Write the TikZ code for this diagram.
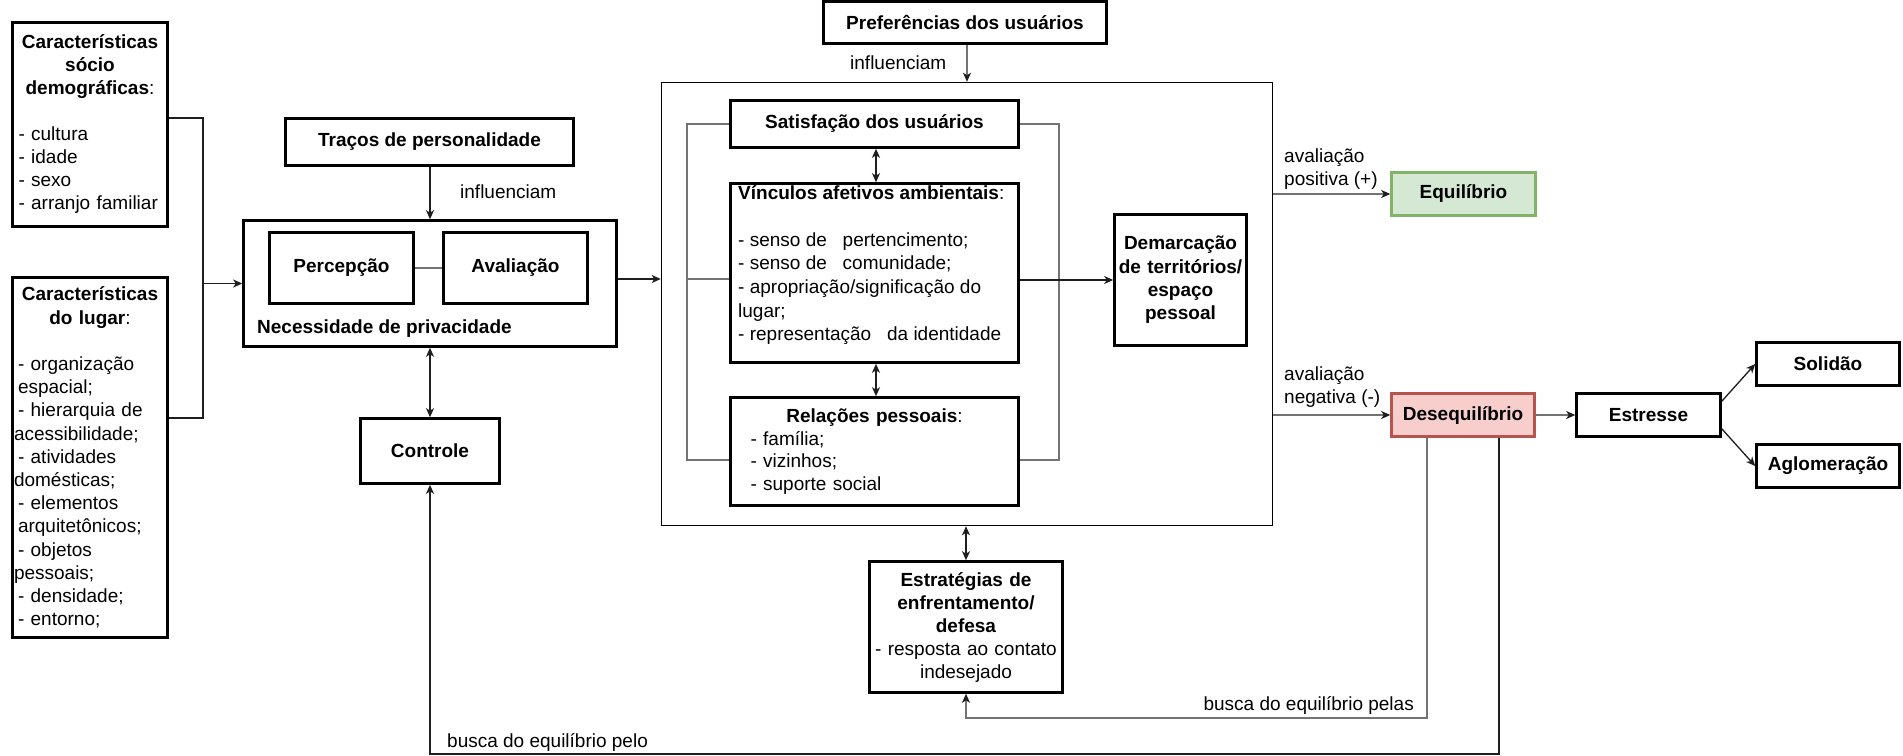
\documentclass[tikz,border=0pt]{standalone}
\usepackage{fontspec}
\setmainfont{Liberation Sans}
\usetikzlibrary{arrows.meta}
\definecolor{linegray}{RGB}{115,115,115}
\definecolor{linedark}{RGB}{30,30,30}
\definecolor{okfill}{HTML}{D5E8D4}
\definecolor{okdraw}{HTML}{82B366}
\definecolor{badfill}{HTML}{F8CECC}
\definecolor{baddraw}{HTML}{B85450}

\begin{document}
\begin{tikzpicture}[x=1pt,y=-1pt,
  every node/.style={font=\fontsize{19}{23}\selectfont, inner sep=0pt},
  box/.style={draw, line width=2.6pt},
  conn/.style={draw=linedark, line width=1.3pt},
  gline/.style={draw=linegray, line width=1.2pt},
  tip/.tip={Stealth[length=9pt,width=8pt,inset=2.5pt]},
  arr/.style={conn, -tip},
  garr/.style={gline, -{Stealth[length=9pt,width=8pt,inset=2.5pt,color=linedark]}},
  arrtwo/.style={conn, tip-tip}]

\fill[white] (0,0) rectangle (1903,755);
\useasboundingbox (0,0) rectangle (1903,755);

% left column: input characteristics
\node[box, minimum width=155pt, minimum height=204pt, text width=151pt, inner xsep=1.5pt] (socio) at (90,124.5)
  {\centering\textbf{Características\\ sócio\\ demográficas}:\par\mbox{}\par\raggedright
   \hspace*{4pt}- cultura\\ \hspace*{4pt}- idade\\ \hspace*{4pt}- sexo\\ \hspace*{4pt}- arranjo familiar};
\node[box, minimum width=155pt, minimum height=360pt, text width=152pt, inner xsep=1pt,
      font=\fontsize{19}{23.2}\selectfont] (lugar) at (90,457.5)
  {\centering\textbf{Características\\ do lugar}:\par\mbox{}\par\raggedright
   \hspace*{4pt}- organização\\ \hspace*{4pt}espacial;\\ \hspace*{4pt}- hierarquia de\\ acessibilidade;\\
   \hspace*{4pt}- atividades\\ domésticas;\\ \hspace*{4pt}- elementos\\ \hspace*{4pt}arquitetônicos;\\
   \hspace*{4pt}- objetos\\ pessoais;\\ \hspace*{4pt}- densidade;\\ \hspace*{4pt}- entorno;};

% privacy block
\node[box, minimum width=288pt, minimum height=47pt] (tracos) at (429.5,142) {\textbf{Traços de personalidade}};
\node[box, minimum width=373pt, minimum height=126pt] (necess) at (430,283.5) {};
\node[box, minimum width=144pt, minimum height=71pt] (percep) at (341.5,268) {\textbf{Percepção}};
\node[box, minimum width=144pt, minimum height=71pt] (aval) at (515.5,268) {\textbf{Avaliação}};
\node[anchor=west] (necesslbl) at (257,329) {\textbf{Necessidade de privacidade}};
\node[box, minimum width=139pt, minimum height=65pt] (controle) at (430,451) {\textbf{Controle}};
\node[anchor=west] (infl1) at (460,192) {influenciam};

% central block
\node[box, minimum width=283pt, minimum height=42pt] (pref) at (965,22.5) {\textbf{Preferências dos usuários}};
\node[anchor=west] (infl2) at (850,63) {influenciam};
\node[draw, line width=1.5pt, minimum width=611pt, minimum height=443pt] (big) at (967,304) {};
\node[box, minimum width=288pt, minimum height=47pt] (satisf) at (874.5,124) {\textbf{Satisfação dos usuários}};
\node[box, minimum width=288pt, minimum height=179pt] (vinc) at (874.5,273) {};
\node[anchor=north west, align=left, font=\fontsize{19}{23.6}\selectfont] (vinctext) at (738,185)
  {\textbf{Vínculos afetivos ambientais}:\\ \mbox{}\\
   - senso de\ \ \ pertencimento;\\ - senso de\ \ \ comunidade;\\
   - apropriação/significação do\\ lugar;\\ - representação\ \ \ da identidade};
\node[box, minimum width=288pt, minimum height=108pt, text width=280pt, inner xsep=4pt,
      font=\fontsize{19}{22.7}\selectfont] (relac) at (874.5,451.5)
  {\centering\textbf{Relações pessoais}:\par\raggedright
   \hspace*{16pt}- família;\\ \hspace*{16pt}- vizinhos;\\ \hspace*{16pt}- suporte social};
\node[box, minimum width=132pt, minimum height=131pt, text width=128pt, align=center,
      font=\fontsize{19}{23.3}\selectfont] (demarc) at (1180.5,280)
  {\textbf{Demarcação\\ de territórios/\\ espaço\\ pessoal}};
\node[box, minimum width=193pt, minimum height=131pt, text width=188pt, align=center] (estrat) at (966,627)
  {\textbf{Estratégias de\\ enfrentamento/\\ defesa}\\ - resposta ao contato\\ indesejado};

% outcomes
\node[anchor=west, align=left] (avpos) at (1284,169) {avaliação\\ positiva (+)};
\node[anchor=west, align=left] (avneg) at (1284,387) {avaliação\\ negativa (-)};
\node[box, draw=okdraw, fill=okfill, minimum width=144pt, minimum height=43pt] (equil) at (1463.5,194) {\textbf{Equilíbrio}};
\node[box, draw=baddraw, fill=badfill, minimum width=143pt, minimum height=43pt] (deseq) at (1463,415) {\textbf{Desequilíbrio}};
\node[box, minimum width=144pt, minimum height=43pt] (estresse) at (1648.5,415) {\textbf{Estresse}};
\node[box, minimum width=143pt, minimum height=43pt] (solidao) at (1828,364) {\textbf{Solidão}};
\node[box, minimum width=143pt, minimum height=43pt] (aglom) at (1828,466) {\textbf{Aglomeração}};
\node[anchor=east] (busca1) at (1414,705) {busca do equilíbrio pelas};
\node[anchor=west] (busca2) at (447,742) {busca do equilíbrio pelo};

% connectors: left side
\coordinate (join) at (203,283.5);
\draw[conn] (socio.east |- 0,118) -| (join);
\draw[conn] (lugar.east |- 0,418) -| (join);
\draw[arr] (join) -- (necess.west);
\draw[arr] (tracos.south -| necess.north) -- (necess.north);
\draw[arrtwo] (necess.south) -- (controle.north);
\draw[gline] (percep.east) -- (aval.west);
\draw[arr] (necess.east |- 0,279) -- (big.west |- 0,279);

% connectors: central block
\draw[garr] (pref.south -| 967,0) -- (big.north -| 967,0);
\draw[arrtwo] (satisf.south -| 876,0) -- (vinc.north -| 876,0);
\draw[arrtwo] (vinc.south -| 876,0) -- (relac.north -| 876,0);
\draw[gline] (satisf.west) -- (687,124) -- (687,460) -- (relac.west |- 0,460);
\draw[gline] (687,279) -- (vinc.west |- 0,279);
\draw[gline] (satisf.east) -- (1059,124) -- (1059,460) -- (relac.east |- 0,460);
\draw[arr] (vinc.east |- demarc.west) -- (demarc.west);
\draw[arrtwo] (big.south -| estrat.north) -- (estrat.north);

% connectors: outcomes
\draw[garr] (big.east |- equil.west) -- (equil.west);
\draw[garr] (big.east |- deseq.west) -- (deseq.west);
\draw[garr] (deseq.east) -- (estresse.west);
\draw[arr] ([yshift=-9pt]estresse.north east) -- (solidao.west);
\draw[arr] ([yshift=9pt]estresse.south east) -- (aglom.west);
\draw[garr] (deseq.south -| 1427,0) -- (1427,718) -| (estrat.south);
\draw[arr] (deseq.south -| 1499,0) -- (1499,754) -| (controle.south);

\end{tikzpicture}
\end{document}
